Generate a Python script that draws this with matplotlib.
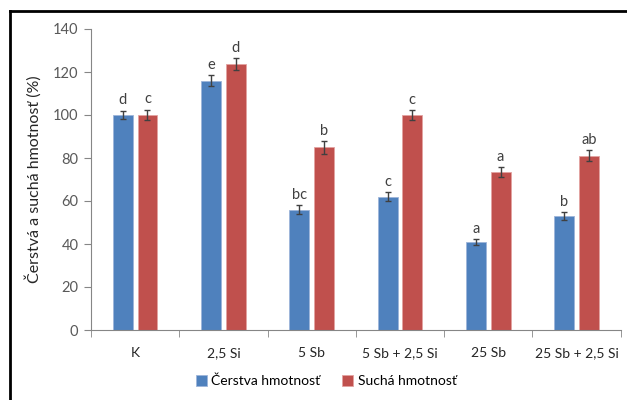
import matplotlib
matplotlib.use("Agg")
import matplotlib.pyplot as plt
import numpy as np
from matplotlib.lines import Line2D

plt.rcParams['font.family'] = ['Lato', 'DejaVu Sans']

categories = ["K", "2,5 Si", "5 Sb", "5 Sb + 2,5 Si", "25 Sb", "25 Sb + 2,5 Si"]
fresh = [100, 116, 56, 62, 41, 53]
fresh_err = [2, 2.5, 2, 2, 1.3, 1.8]
fresh_letters = ["d", "e", "bc", "c", "a", "b"]
dry = [100, 123.5, 85, 100, 73.5, 81]
dry_err = [2.5, 2.8, 3, 2.2, 2.2, 2.6]
dry_letters = ["c", "d", "b", "c", "a", "ab"]
series_names = ["Čerstva hmotnosť", "Suchá hmotnosť"]

blue = "#4F81BD"
red = "#C0504D"
grey_txt = "#595959"
axis_grey = "#868686"

fig = plt.figure(figsize=(6.27, 4.0), dpi=100)
ax = fig.add_axes([0.1451, 0.175, 0.8449, 0.7525])

x = np.arange(len(categories))
w = 0.225
off = 0.14
err_kw = dict(ecolor="#404040", elinewidth=1.0, capsize=2.5, capthick=1.0)
ax.bar(x - off, fresh, w, color=blue, edgecolor="#9DB5DA", linewidth=0.6,
       yerr=fresh_err, error_kw=err_kw, label=series_names[0], zorder=2)
ax.bar(x + off, dry, w, color=red, edgecolor="#E3A3A1", linewidth=0.6,
       yerr=dry_err, error_kw=err_kw, label=series_names[1], zorder=2)

for xi, v, e, t in zip(x - off, fresh, fresh_err, fresh_letters):
    ax.text(xi, v + e + 1.5, t, ha="center", va="bottom", fontsize=10.5, color="#404040")
for xi, v, e, t in zip(x + off, dry, dry_err, dry_letters):
    ax.text(xi, v + e + 1.5, t, ha="center", va="bottom", fontsize=10.5, color="#404040")

ax.set_xlim(-0.5, len(categories) - 0.5)
ax.set_ylim(0, 140)
ax.set_yticks(np.arange(0, 141, 20))
ax.set_xticks(x)
ax.set_xticklabels(categories)
ax.set_xticks(np.arange(-0.5, len(categories), 1.0), minor=True)
ax.tick_params(axis="x", which="major", length=0, pad=12, labelsize=10, labelcolor="#262626")
ax.tick_params(axis="x", which="minor", length=5, color=axis_grey, direction="out")
ax.tick_params(axis="y", length=5, color=axis_grey, labelsize=10.5, labelcolor=grey_txt, pad=4)

for s in ["top", "right"]:
    ax.spines[s].set_visible(False)
ax.spines["left"].set_color(axis_grey)
ax.spines["bottom"].set_color(axis_grey)

ax.set_ylabel("Čerstvá a suchá hmotnosť (%)", fontsize=11.5, color="#262626", labelpad=8)

ax.legend(loc="center", bbox_to_anchor=(0.52, 1 - 381 / 400), bbox_transform=fig.transFigure,
          ncol=2, frameon=False, fontsize=10, handlelength=0.8, handleheight=0.8,
          handletextpad=0.3, columnspacing=1.6)

# chart frame
fig.add_artist(Line2D([9.5 / 627, 1.0], [1 - 11 / 400, 1 - 11 / 400], color="black",
                      linewidth=2, transform=fig.transFigure))
fig.add_artist(Line2D([9.5 / 627, 9.5 / 627], [0, 1 - 11 / 400], color="black",
                      linewidth=2, transform=fig.transFigure))

fig.savefig("out.png", dpi=100)
